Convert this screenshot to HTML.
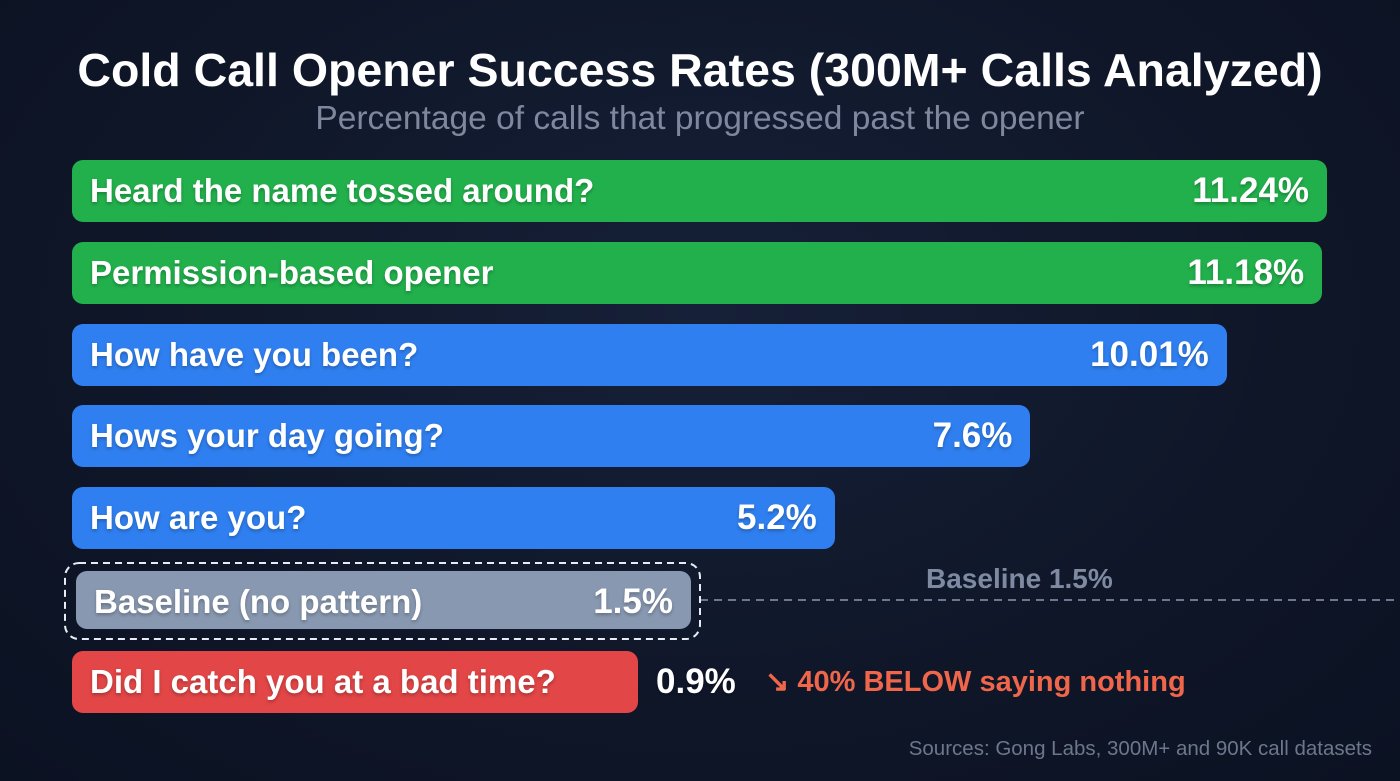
<!DOCTYPE html>
<html><head><meta charset="utf-8"><style>
html,body{margin:0;padding:0}
body{width:1400px;height:781px;overflow:hidden;background:radial-gradient(ellipse at 50% 40%,#162038 0%,#0f1628 60%,#0b1222 100%);font-family:"Liberation Sans",sans-serif;position:relative}
.t{position:absolute;white-space:nowrap}
.bar{position:absolute;left:72px;height:62px;border-radius:11px}
.lab{position:absolute;left:18px;top:0;line-height:62px;color:#fff;font-weight:bold;font-size:33px;text-shadow:0 2px 3px rgba(0,0,0,.25)}
.val{position:absolute;right:18px;top:0;line-height:62px;color:#fff;font-weight:bold;font-size:35px;text-shadow:0 2px 3px rgba(0,0,0,.25)}
</style></head><body>
<div class="t" style="left:0;width:1400px;text-align:center;top:43px;font-size:46.5px;font-weight:bold;color:#fff">Cold Call Opener Success Rates (300M+ Calls Analyzed)</div>
<div class="t" style="left:0;width:1400px;text-align:center;top:100px;font-size:33.5px;color:#7d889e">Percentage of calls that progressed past the opener</div>
<div id="chart"></div>
<svg class="t" style="left:0;top:0" width="1400" height="781">
<line x1="700" y1="600" x2="1400" y2="600" stroke="#6b7890" stroke-width="2" stroke-dasharray="8,6"/>
<rect x="65" y="563" width="635" height="76" rx="14" fill="none" stroke="#e8ecf2" stroke-width="2" stroke-dasharray="7,5"/>
</svg>
<div class="t" style="left:926px;top:563px;font-size:28px;font-weight:bold;color:#7d8aa1">Baseline 1.5%</div>
<div class="t" style="left:765px;top:664px;font-size:29px;font-weight:bold;color:#f0664a">↘ 40% BELOW saying nothing</div>
<div class="t" style="right:28px;top:737px;font-size:20.5px;color:#6c778c">Sources: Gong Labs, 300M+ and 90K call datasets</div>
<script>
const categories=["Heard the name tossed around?","Permission-based opener","How have you been?","Hows your day going?","How are you?","Baseline (no pattern)","Did I catch you at a bad time?"];
const values=[11.24,11.18,10.01,7.6,5.2,1.5,0.9];
const valueLabels=["11.24%","11.18%","10.01%","7.6%","5.2%","1.5%","0.9%"];
const colors=["#22b04c","#22b04c","#2f7ff0","#2f7ff0","#2f7ff0","#8898b0","#e24646"];
function xw(v){return v>3?339+81.5*v:566+(v-0.9)*90;}
function yr(i){return 160+i*81.8;}
const c=document.getElementById('chart');
values.forEach((v,i)=>{
 const b=document.createElement('div');b.className='bar';
 
 
 const w=xw(v);b.style.top=yr(i)+'px';b.style.width=(i==5?w-5:w)+'px';b.style.background=colors[i];
 if(i==5){b.style.left='76px';b.style.height='58px';b.style.marginTop='2px';}
 const l=document.createElement('div');l.className='lab';l.textContent=categories[i];
 
 
 b.appendChild(l);
 const t=document.createElement('div');t.className='val';t.textContent=valueLabels[i];
 
 
 if(i==6){t.style.right='auto';t.style.left=(w+18)+'px';}
 b.appendChild(t);c.appendChild(b);
});
</script>
</body></html>
